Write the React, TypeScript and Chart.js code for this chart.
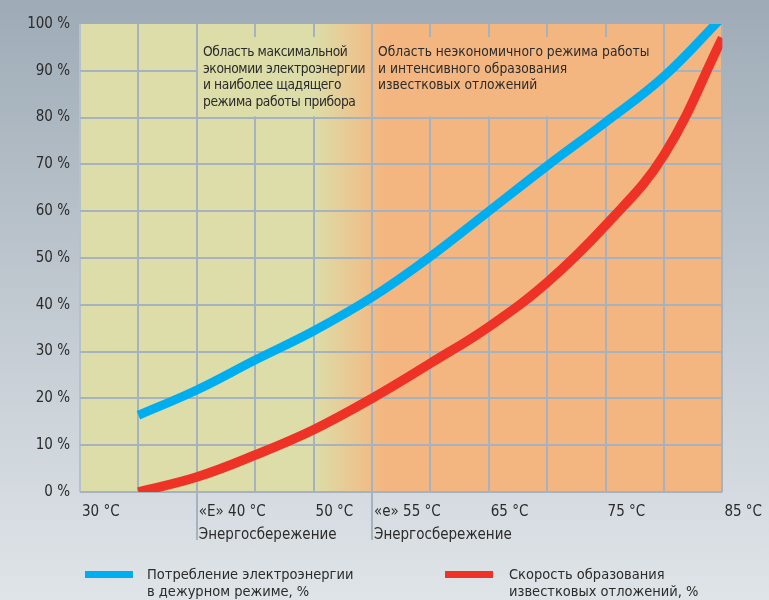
import React, { useEffect, useRef } from "react";
import { Chart, registerables } from "chart.js";

Chart.register(...registerables);

// ---- data ----
const temps = [35, 40, 45, 50, 55, 60, 65, 70, 75, 80, 85];
const powerUse = [16.4, 21.8, 28.2, 34.4, 41.6, 50.3, 60.0, 69.7, 79.0, 88.8, 101.5];
const scaleRate = [0, 3.2, 7.9, 13.3, 20.0, 27.5, 35.3, 44.8, 57.0, 72.0, 97];

const xTickValues = [30, 40, 50, 55, 65, 75, 85];
const xTickLabels: (string | string[])[] = [
  "30 °C",
  ["«E» 40 °C", "Энергосбережение"],
  "50 °C",
  ["«e» 55 °C", "Энергосбережение"],
  "65 °C",
  "75 °C",
  "85 °C",
];
const markerTemps = [40, 55];

const seriesNames = [
  ["Потребление электроэнергии", "в дежурном режиме, %"],
  ["Скорость образования", "известковых отложений, %"],
];
const zoneTexts = [
  ["Область максимальной", "экономии электроэнергии", "и наиболее щадящего", "режима работы прибора"],
  ["Область неэкономичного режима работы", "и интенсивного образования", "известковых отложений"],
];

// ---- style ----
const FONT = "'DejaVu Sans Condensed', 'DejaVu Sans', sans-serif";
const TEXT = "#2b2b2b";
const GRID = "#a6b3be";
const YELLOW = "#dcdda8";
const ORANGE = "#f4b680";
const BLUE = "#00aeef";
const RED = "#ee3226";

function bgGradient(chart: any) {
  const { ctx, chartArea } = chart;
  const xs = chart.scales.x;
  const { left, right } = chartArea;
  const g = ctx.createLinearGradient(left, 0, right, 0);
  const a = (xs.getPixelForValue(50) - left) / (right - left);
  const b = (xs.getPixelForValue(56) - left) / (right - left);
  g.addColorStop(0, YELLOW);
  g.addColorStop(a, YELLOW);
  g.addColorStop(b, ORANGE);
  g.addColorStop(1, ORANGE);
  return g;
}

const plotBg = {
  id: "plotBg",
  beforeDraw(chart: any) {
    const { ctx, chartArea } = chart;
    ctx.save();
    ctx.fillStyle = bgGradient(chart);
    ctx.fillRect(chartArea.left, chartArea.top, chartArea.right - chartArea.left, chartArea.bottom - chartArea.top);
    ctx.restore();
  },
  beforeDatasetsDraw(chart: any) {
    // text zones hide the grid
    const { ctx } = chart;
    const xs = chart.scales.x;
    const ys = chart.scales.y;
    const zones = [
      [40, 55],
      [55, 80],
    ];
    ctx.save();
    ctx.fillStyle = bgGradient(chart);
    const top = ys.getPixelForValue(97.2);
    const bottom = ys.getPixelForValue(80) - 1.2;
    for (const [a, b] of zones) {
      const l = xs.getPixelForValue(a) + 1.2;
      const r = xs.getPixelForValue(b) - 1.2;
      ctx.fillRect(l, top, r - l, bottom - top);
    }
    ctx.restore();
  },
  afterDraw(chart: any) {
    const { ctx, chartArea } = chart;
    const xs = chart.scales.x;
    ctx.save();
    ctx.strokeStyle = GRID;
    ctx.lineWidth = 2;
    for (const v of markerTemps) {
      const x = Math.round(xs.getPixelForValue(v));
      ctx.beginPath();
      ctx.moveTo(x, chartArea.bottom);
      ctx.lineTo(x, chartArea.bottom + 48);
      ctx.stroke();
    }
    ctx.restore();
  },
};

export default function App() {
  const ref = useRef<HTMLCanvasElement | null>(null);

  useEffect(() => {
    if (!ref.current) return;
    const chart = new Chart(ref.current, {
      type: "line",
      data: {
        datasets: [
          {
            label: seriesNames[0].join(" "),
            data: temps.map((t, i) => ({ x: t, y: powerUse[i] })),
            borderColor: BLUE,
            borderWidth: 9,
            pointRadius: 0,
            tension: 0.4,
            clip: 0,
          },
          {
            label: seriesNames[1].join(" "),
            data: temps.map((t, i) => ({ x: t, y: scaleRate[i] })),
            borderColor: RED,
            borderWidth: 9.5,
            pointRadius: 0,
            tension: 0.4,
            clip: 0,
          },
        ],
      },
      options: {
        animation: false,
        responsive: false,
        maintainAspectRatio: false,
        layout: { padding: { left: 0, right: 44, top: 24, bottom: 0 } },
        plugins: { legend: { display: false }, tooltip: { enabled: false } },
        scales: {
          x: {
            type: "linear",
            min: 30,
            max: 85,
            border: { display: false },
            grid: {
              drawTicks: false,
              lineWidth: 2,
              color: (c: any) => (c.tick && c.tick.value === 30 ? "#b6c1ca" : GRID),
            },
            ticks: {
              stepSize: 5,
              autoSkip: false,
              maxRotation: 0,
              align: "start",
              labelOffset: 2,
              padding: 9,
              color: TEXT,
              font: { family: FONT, size: 15, lineHeight: 1.5 },
              callback: (v: any) => {
                const i = xTickValues.indexOf(Number(v));
                return i >= 0 ? xTickLabels[i] : "";
              },
            },
            afterFit: (s: any) => {
              s.height = 108;
            },
          },
          y: {
            min: 0,
            max: 100,
            border: { display: false },
            grid: {
              drawTicks: false,
              lineWidth: 2,
              color: (c: any) => (c.tick && c.tick.value === 100 ? "rgba(0,0,0,0)" : GRID),
            },
            ticks: {
              stepSize: 10,
              padding: 10,
              color: TEXT,
              font: { family: FONT, size: 15 },
              callback: (v: any) => `${v} %`,
            },
            afterFit: (s: any) => {
              s.width = 80;
            },
          },
        },
      },
      plugins: [plotBg],
    } as any);
    return () => chart.destroy();
  }, []);

  const textStyle: React.CSSProperties = {
    position: "absolute",
    fontFamily: FONT,
    fontSize: 13.7,
    lineHeight: "16.7px",
    color: TEXT,
    whiteSpace: "nowrap",
  };
  const legendText: React.CSSProperties = {
    ...textStyle,
    fontSize: 14.5,
    lineHeight: "17px",
  };

  return (
    <div
      style={{
        position: "absolute",
        left: 0,
        top: 0,
        width: 769,
        height: 600,
        overflow: "hidden",
        background: "linear-gradient(to bottom, #9eabb6 0%, #c4ccd3 55%, #dfe4e8 100%)",
      }}
    >
      <canvas ref={ref} width={769} height={600} style={{ position: "absolute", left: 0, top: 0 }} />
      <div style={{ ...textStyle, left: 203, top: 43, letterSpacing: "-0.4px" }}>
        {zoneTexts[0].map((t, i) => (
          <div key={i}>{t}</div>
        ))}
      </div>
      <div style={{ ...textStyle, left: 378, top: 43 }}>
        {zoneTexts[1].map((t, i) => (
          <div key={i}>{t}</div>
        ))}
      </div>
      <div style={{ position: "absolute", left: 85, top: 571, width: 48, height: 7, background: BLUE }} />
      <div style={{ ...legendText, left: 147, top: 566 }}>
        {seriesNames[0].map((t, i) => (
          <div key={i}>{t}</div>
        ))}
      </div>
      <div style={{ position: "absolute", left: 445, top: 571, width: 48, height: 7, background: RED }} />
      <div style={{ ...legendText, left: 509, top: 566 }}>
        {seriesNames[1].map((t, i) => (
          <div key={i}>{t}</div>
        ))}
      </div>
    </div>
  );
}
